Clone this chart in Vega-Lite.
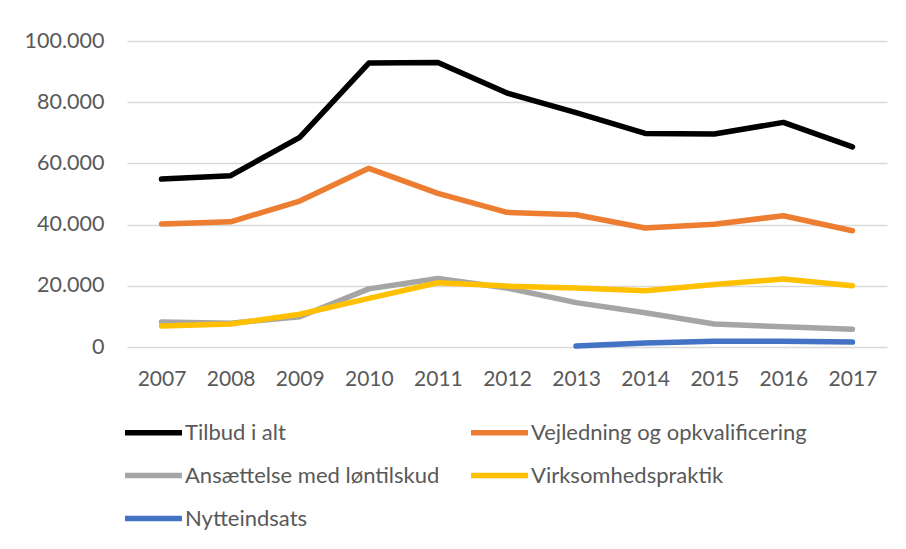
{
  "$schema": "https://vega.github.io/schema/vega-lite/v6.json",
  "width": 760,
  "height": 306,
  "autosize": {"type": "none"},
  "padding": {"left": 127, "top": 41, "right": 19, "bottom": 202},
  "background": "white",
  "config": {
    "view": {"stroke": null},
    "font": "Lato",
    "locale": {"number": {"decimal": ",", "thousands": ".", "grouping": [3], "currency": ["", " kr."]}}
  },
  "data": {"values": [
    {"year": "2007", "serie": "Tilbud i alt", "value": 54900},
    {"year": "2008", "serie": "Tilbud i alt", "value": 56000},
    {"year": "2009", "serie": "Tilbud i alt", "value": 68500},
    {"year": "2010", "serie": "Tilbud i alt", "value": 92800},
    {"year": "2011", "serie": "Tilbud i alt", "value": 93000},
    {"year": "2012", "serie": "Tilbud i alt", "value": 83000},
    {"year": "2013", "serie": "Tilbud i alt", "value": 76600},
    {"year": "2014", "serie": "Tilbud i alt", "value": 69800},
    {"year": "2015", "serie": "Tilbud i alt", "value": 69600},
    {"year": "2016", "serie": "Tilbud i alt", "value": 73400},
    {"year": "2017", "serie": "Tilbud i alt", "value": 65400},
    {"year": "2007", "serie": "Vejledning og opkvalificering", "value": 40200},
    {"year": "2008", "serie": "Vejledning og opkvalificering", "value": 40900},
    {"year": "2009", "serie": "Vejledning og opkvalificering", "value": 47700},
    {"year": "2010", "serie": "Vejledning og opkvalificering", "value": 58400},
    {"year": "2011", "serie": "Vejledning og opkvalificering", "value": 50200},
    {"year": "2012", "serie": "Vejledning og opkvalificering", "value": 44000},
    {"year": "2013", "serie": "Vejledning og opkvalificering", "value": 43200},
    {"year": "2014", "serie": "Vejledning og opkvalificering", "value": 38900},
    {"year": "2015", "serie": "Vejledning og opkvalificering", "value": 40100},
    {"year": "2016", "serie": "Vejledning og opkvalificering", "value": 42900},
    {"year": "2017", "serie": "Vejledning og opkvalificering", "value": 38000},
    {"year": "2007", "serie": "Ansættelse med løntilskud", "value": 8200},
    {"year": "2008", "serie": "Ansættelse med løntilskud", "value": 7800},
    {"year": "2009", "serie": "Ansættelse med løntilskud", "value": 9900},
    {"year": "2010", "serie": "Ansættelse med løntilskud", "value": 19000},
    {"year": "2011", "serie": "Ansættelse med løntilskud", "value": 22400},
    {"year": "2012", "serie": "Ansættelse med løntilskud", "value": 19300},
    {"year": "2013", "serie": "Ansættelse med løntilskud", "value": 14500},
    {"year": "2014", "serie": "Ansættelse med løntilskud", "value": 11200},
    {"year": "2015", "serie": "Ansættelse med løntilskud", "value": 7500},
    {"year": "2016", "serie": "Ansættelse med løntilskud", "value": 6600},
    {"year": "2017", "serie": "Ansættelse med løntilskud", "value": 5800},
    {"year": "2007", "serie": "Virksomhedspraktik", "value": 6900},
    {"year": "2008", "serie": "Virksomhedspraktik", "value": 7500},
    {"year": "2009", "serie": "Virksomhedspraktik", "value": 10700},
    {"year": "2010", "serie": "Virksomhedspraktik", "value": 15900},
    {"year": "2011", "serie": "Virksomhedspraktik", "value": 21000},
    {"year": "2012", "serie": "Virksomhedspraktik", "value": 19900},
    {"year": "2013", "serie": "Virksomhedspraktik", "value": 19300},
    {"year": "2014", "serie": "Virksomhedspraktik", "value": 18400},
    {"year": "2015", "serie": "Virksomhedspraktik", "value": 20400},
    {"year": "2016", "serie": "Virksomhedspraktik", "value": 22200},
    {"year": "2017", "serie": "Virksomhedspraktik", "value": 20000},
    {"year": "2013", "serie": "Nytteindsats", "value": 300},
    {"year": "2014", "serie": "Nytteindsats", "value": 1300},
    {"year": "2015", "serie": "Nytteindsats", "value": 1900},
    {"year": "2016", "serie": "Nytteindsats", "value": 1900},
    {"year": "2017", "serie": "Nytteindsats", "value": 1600}
  ]},
  "mark": {"type": "line", "strokeWidth": 5.5, "strokeCap": "round", "strokeJoin": "round"},
  "encoding": {
    "x": {
      "field": "year", "type": "ordinal",
      "scale": {"type": "point", "padding": 0.5},
      "axis": {"title": null, "labelAngle": 0, "domain": false, "ticks": false, "labelPadding": 21,
               "labelFontSize": 21, "labelColor": "#595959", "labelFont": "Lato"}
    },
    "y": {
      "field": "value", "type": "quantitative",
      "scale": {"domain": [0, 100000], "nice": false},
      "axis": {"title": null, "values": [0, 20000, 40000, 60000, 80000, 100000], "format": ",.0f",
               "domain": false, "ticks": false, "labelPadding": 23, "gridColor": "#D9D9D9", "gridWidth": 1.5,
               "labelFontSize": 21.5, "labelColor": "#595959", "labelFont": "Lato"}
    },
    "color": {
      "field": "serie", "type": "nominal",
      "scale": {
        "domain": ["Tilbud i alt", "Vejledning og opkvalificering", "Ansættelse med løntilskud", "Virksomhedspraktik", "Nytteindsats"],
        "range": ["#000000", "#ED7D31", "#A5A5A5", "#FFC000", "#4472C4"]
      },
      "legend": {
        "title": null, "orient": "none", "legendX": -5, "legendY": 360, "direction": "horizontal", "columns": 2,
        "symbolType": "stroke", "symbolSize": 3249, "symbolStrokeWidth": 5.5, "labelOffset": 0,
        "labelFontSize": 22, "labelColor": "#595959", "labelFont": "Lato", "labelLimit": 400,
        "rowPadding": -13, "columnPadding": 20
      }
    }
  }
}
